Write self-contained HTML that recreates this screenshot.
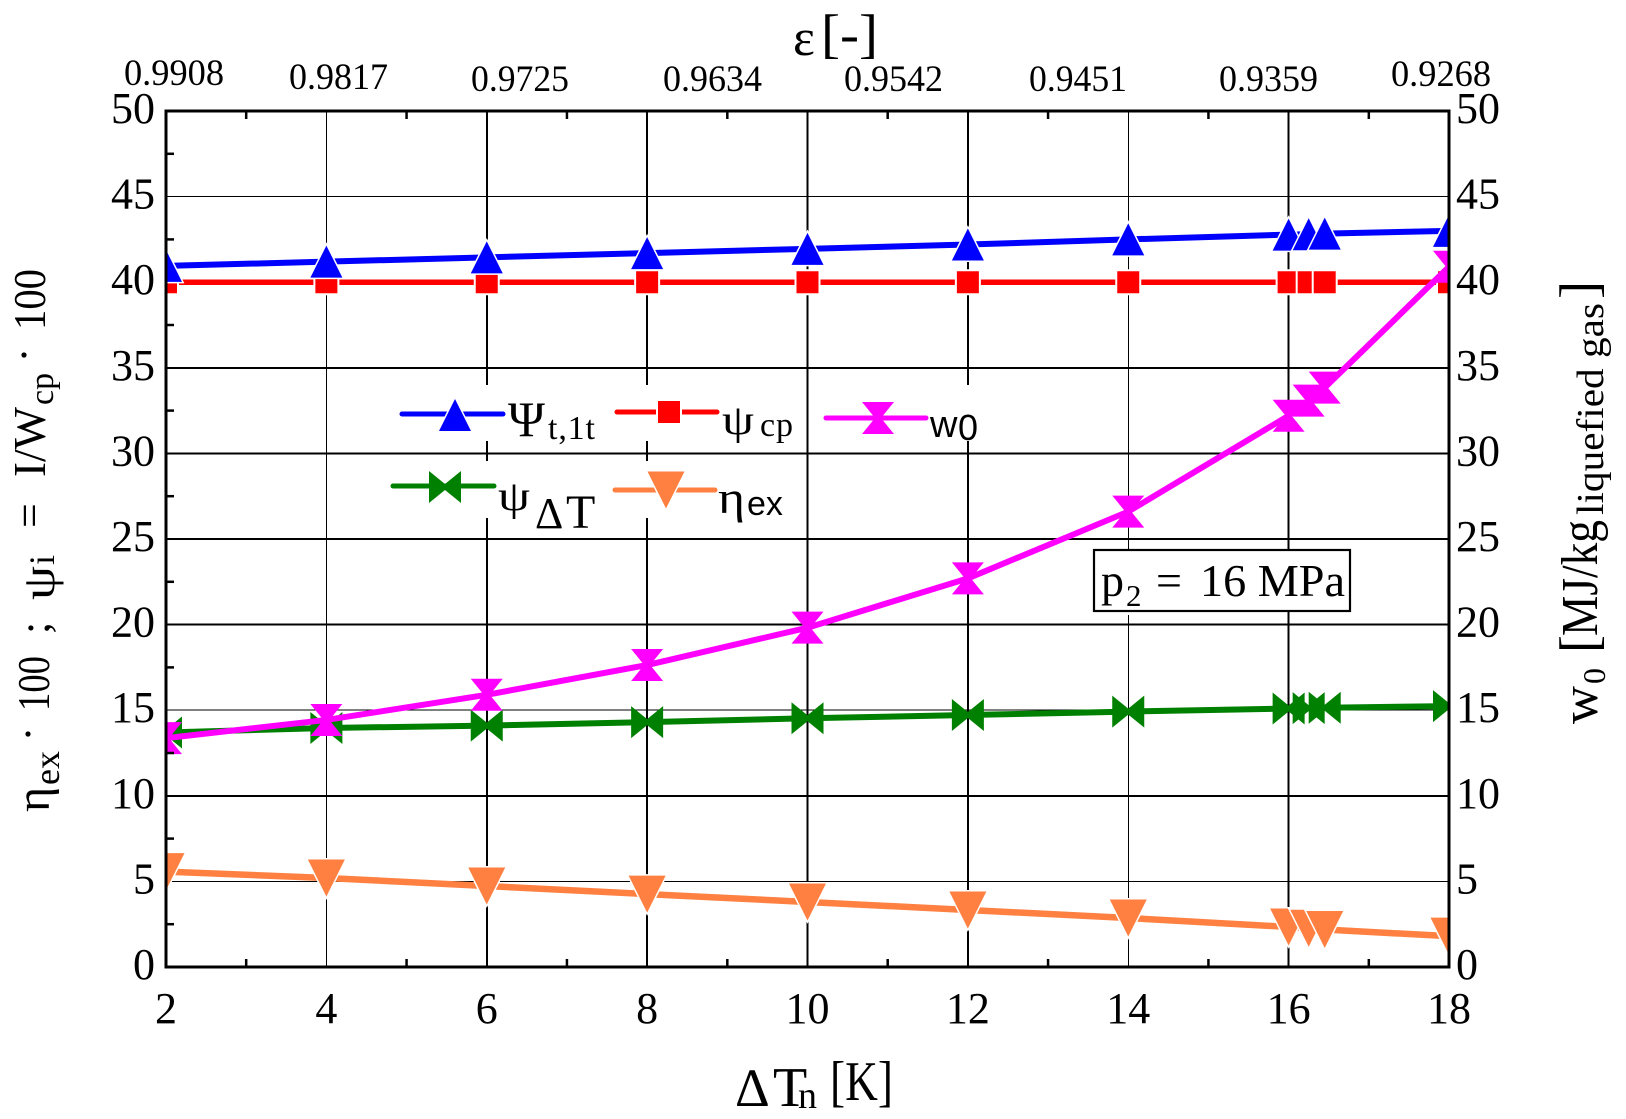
<!DOCTYPE html>
<html lang="en">
<head>
<meta charset="utf-8">
<title>Exergy efficiency chart</title>
<style>
html,body{margin:0;padding:0;background:#fff;}
svg{display:block;}
text{font-family:"Liberation Serif",serif;fill:#000;}
.sans{font-family:"Liberation Sans",sans-serif;}
</style>
</head>
<body>
<svg id="chart" xmlns="http://www.w3.org/2000/svg" width="1626" height="1119" viewBox="0 0 1626 1119">
  <defs>
    <clipPath id="plot-clip"><rect x="166" y="111" width="1283" height="856"/></clipPath>
  </defs>
  <rect x="0" y="0" width="1626" height="1119" fill="#fff"/>
  <g id="grid-layer"></g>

  <g fill="#fff">
    <rect x="480" y="385" width="320" height="56"/>
    <rect x="925" y="385" width="55" height="56"/>
    <rect x="480" y="461" width="320" height="57"/>
  </g>

  <g id="series-layer" clip-path="url(#plot-clip)"></g>
  <g id="axis-layer"></g>

  <!-- Epsilon scale labels (free-standing along the top) -->
  <g font-size="37">
    <text x="124" y="85" textLength="100" lengthAdjust="spacingAndGlyphs">0.9908</text>
    <text x="289" y="89" textLength="99" lengthAdjust="spacingAndGlyphs">0.9817</text>
    <text x="471" y="91" textLength="98" lengthAdjust="spacingAndGlyphs">0.9725</text>
    <text x="663" y="91" textLength="99" lengthAdjust="spacingAndGlyphs">0.9634</text>
    <text x="844" y="91" textLength="99" lengthAdjust="spacingAndGlyphs">0.9542</text>
    <text x="1029" y="91" textLength="98" lengthAdjust="spacingAndGlyphs">0.9451</text>
    <text x="1219" y="91" textLength="99" lengthAdjust="spacingAndGlyphs">0.9359</text>
    <text x="1391" y="86" textLength="100" lengthAdjust="spacingAndGlyphs">0.9268</text>
  </g>

  <!-- Top title -->
  <g>
    <text x="793" y="55" font-size="52">ε</text>
    <text x="821" y="52" font-size="54" textLength="57" lengthAdjust="spacingAndGlyphs">[-]</text>
  </g>

  <!-- Bottom title -->
  <g>
    <text x="735" y="1106" font-size="54">Δ</text>
    <text x="773" y="1106" font-size="56">T</text>
    <text x="798" y="1108" font-size="38">n</text>
    <text x="830" y="1100" font-size="56" textLength="63" lengthAdjust="spacingAndGlyphs">[K]</text>
  </g>

  <!-- Left title -->
  <g>
    <text transform="translate(49,812) rotate(-90)" font-size="48">η</text>
    <text transform="translate(59,785) rotate(-90)" font-size="36">ex</text>
    <circle cx="28" cy="734" r="2.6" fill="#000"/>
    <text transform="translate(49,711) rotate(-90)" font-size="46" textLength="55" lengthAdjust="spacingAndGlyphs">100</text>
    <text transform="translate(49,634) rotate(-90)" font-size="44">;</text>
    <text transform="translate(54,600) rotate(-90)" font-size="46" textLength="34" lengthAdjust="spacingAndGlyphs">ψ</text>
    <text transform="translate(54,565) rotate(-90)" font-size="36">i</text>
    <text transform="translate(44,528) rotate(-90)" font-size="44">=</text>
    <text transform="translate(45,477) rotate(-90)" font-size="46" textLength="70" lengthAdjust="spacingAndGlyphs">I/W</text>
    <text transform="translate(53,405) rotate(-90)" font-size="34">cp</text>
    <circle cx="24" cy="355" r="2.6" fill="#000"/>
    <text transform="translate(45,330) rotate(-90)" font-size="46" textLength="61" lengthAdjust="spacingAndGlyphs">100</text>
  </g>

  <!-- Right title -->
  <g>
    <text transform="translate(1597,724) rotate(-90)" font-size="52" textLength="38" lengthAdjust="spacingAndGlyphs">w</text>
    <text transform="translate(1605,684) rotate(-90)" font-size="32">0</text>
    <text transform="translate(1597,653) rotate(-90)" font-size="54">[</text>
    <text transform="translate(1597,636) rotate(-90)" font-size="52" textLength="116" lengthAdjust="spacingAndGlyphs">MJ/kg</text>
    <text transform="translate(1603,515) rotate(-90)" font-size="38" textLength="212" lengthAdjust="spacingAndGlyphs">liquefied gas</text>
    <text transform="translate(1597,299) rotate(-90)" font-size="54">]</text>
  </g>

  <!-- Legend -->
  <g>
    <g>
      <line x1="402" y1="414" x2="503" y2="414" stroke="#0000ff" stroke-width="5" stroke-linecap="round"/>
      <path d="M-16,16H16L0,-16Z" transform="translate(455,415)" fill="#0000ff" stroke="#fff" stroke-width="3" paint-order="stroke"/>
      <text x="508" y="436" font-size="50">Ψ</text>
      <text x="548" y="439" font-size="34" textLength="47" lengthAdjust="spacing">t,1t</text>
    </g>
    <g>
      <line x1="617" y1="412" x2="717" y2="412" stroke="#ff0000" stroke-width="5" stroke-linecap="round"/>
      <rect x="658" y="401" width="22" height="22" fill="#ff0000" stroke="#fff" stroke-width="4" paint-order="stroke"/>
      <text x="722" y="434" font-size="42" textLength="32" lengthAdjust="spacingAndGlyphs">ψ</text>
      <text x="760" y="436" font-size="34" textLength="33" lengthAdjust="spacing">cp</text>
    </g>
    <g>
      <line x1="826" y1="418" x2="926" y2="418" stroke="#ff00ff" stroke-width="5" stroke-linecap="round"/>
      <path d="M-16,-16H16L3,0L16,16H-16L-3,0Z" transform="translate(878,418)" fill="#ff00ff"/>
      <text class="sans" x="930" y="437" font-size="38">w</text>
      <text class="sans" x="958" y="440" font-size="36">0</text>
    </g>
    <g>
      <line x1="393" y1="486" x2="494" y2="486" stroke="#008000" stroke-width="5" stroke-linecap="round"/>
      <path d="M-16,-16L0,-3L16,-16V16L0,3L-16,16Z" transform="translate(445,487)" fill="#008000"/>
      <text x="498" y="510" font-size="42" textLength="32" lengthAdjust="spacingAndGlyphs">ψ</text>
      <text x="535" y="528" font-size="44">Δ</text>
      <text x="566" y="528" font-size="48">T</text>
    </g>
    <g>
      <line x1="615" y1="490" x2="715" y2="490" stroke="#ff8040" stroke-width="5" stroke-linecap="round"/>
      <path d="M-18.5,-18.5H18.5L0,18.5Z" transform="translate(666,490)" fill="#ff8040" stroke="#fff" stroke-width="3" paint-order="stroke"/>
      <text x="718" y="513" font-size="46" textLength="27" lengthAdjust="spacingAndGlyphs">η</text>
      <text class="sans" x="747" y="515" font-size="34">ex</text>
    </g>
  </g>

  <!-- Pressure annotation -->
  <g>
    <rect x="1120" y="610" width="16" height="5" fill="#fff"/>
    <rect x="1094" y="550" width="256" height="61" fill="#fff" stroke="#000" stroke-width="2.2"/>
    <text x="1101" y="596" font-size="46">p</text>
    <text x="1126" y="606" font-size="31">2</text>
    <text x="1156" y="596" font-size="46">=</text>
    <text x="1200" y="596" font-size="46" textLength="145" lengthAdjust="spacingAndGlyphs">16 MPa</text>
  </g>
</svg>

<script>
const dtValues = [2, 4, 6, 8, 10, 12, 14, 16, 16.25, 16.45, 18];
const psiTValues = [40.95, 41.2, 41.45, 41.7, 41.95, 42.2, 42.5, 42.78, 42.8, 42.84, 43.0];
const psiCpValues = [40, 40, 40, 40, 40, 40, 40, 40, 40, 40, 40];
const w0Values = [13.37, 14.43, 15.9, 17.64, 19.82, 22.7, 26.6, 32.2, 33.08, 33.84, 40.9];
const psiDtValues = [13.7, 13.96, 14.1, 14.3, 14.53, 14.72, 14.92, 15.1, 15.12, 15.14, 15.24];
const etaExValues = [5.57, 5.2, 4.73, 4.26, 3.8, 3.33, 2.86, 2.34, 2.26, 2.19, 1.8];
const xTickValues = [2, 4, 6, 8, 10, 12, 14, 16, 18];
const xMinorValues = [3, 5, 7, 9, 11, 13, 15, 17];
const yTickValues = [0, 5, 10, 15, 20, 25, 30, 35, 40, 45, 50];
const yMinorValues = [2.5, 7.5, 12.5, 17.5, 22.5, 27.5, 32.5, 37.5, 42.5, 47.5];
const thinXGrid = [4, 14];
const thinYGrid = [45, 15, 5];

const NS = 'http://www.w3.org/2000/svg';
const plotLeft = 166, plotRight = 1449, plotTop = 111, plotBottom = 967;
function xAxis(v) { return plotLeft + (v - 2) * (plotRight - plotLeft) / 16; }
function yAxis(v) { return plotBottom - v * (plotBottom - plotTop) / 50; }
function make(tag, parent) {
  const el = document.createElementNS(NS, tag);
  parent.appendChild(el);
  return el;
}

const gridLayer = document.getElementById('grid-layer');
const axisLayer = document.getElementById('axis-layer');
const seriesLayer = document.getElementById('series-layer');

xTickValues.slice(1, -1).forEach(function (v) {
  const l = make('line', gridLayer);
  
  
  l.setAttribute('x1', xAxis(v)); l.setAttribute('x2', xAxis(v));
  l.setAttribute('y1', plotTop); l.setAttribute('y2', plotBottom);
  l.setAttribute('stroke', '#000');
  l.setAttribute('stroke-width', thinXGrid.indexOf(v) >= 0 ? 1 : 2);
  l.setAttribute('shape-rendering', 'crispEdges');
});
yTickValues.slice(1, -1).forEach(function (v) {
  const l = make('line', gridLayer);
  
  
  l.setAttribute('x1', plotLeft); l.setAttribute('x2', plotRight);
  l.setAttribute('y1', yAxis(v)); l.setAttribute('y2', yAxis(v));
  l.setAttribute('stroke', '#000');
  l.setAttribute('stroke-width', thinYGrid.indexOf(v) >= 0 ? 1 : 2);
  l.setAttribute('shape-rendering', 'crispEdges');
});

function drawSeries(name, values, color, shape, halo, lineWidth) {
  const group = make('g', seriesLayer);
  
  
  const line = make('polyline', group);
  
  
  line.setAttribute('points', values.map(function (v, i) { return xAxis(dtValues[i]) + ',' + yAxis(v); }).join(' '));
  line.setAttribute('fill', 'none');
  line.setAttribute('stroke', color);
  line.setAttribute('stroke-width', lineWidth);
  values.forEach(function (v, i) {
    const m = make('path', group);
    
    
    m.setAttribute('d', shape);
    m.setAttribute('transform', 'translate(' + xAxis(dtValues[i]) + ',' + yAxis(v) + ')');
    m.setAttribute('fill', color);
    if (halo) {
      m.setAttribute('stroke', '#fff');
      m.setAttribute('stroke-width', halo);
      m.setAttribute('paint-order', 'stroke');
    }
  });
}
drawSeries('series-psi-cp', psiCpValues, '#ff0000', 'M-11,-11H11V11H-11Z', 4, 5.5);
drawSeries('series-psi-t', psiTValues, '#0000ff', 'M-16,16H16L0,-16Z', 3, 6);
drawSeries('series-psi-delta-t', psiDtValues, '#008000', 'M-16,-16L0,-3L16,-16V16L0,3L-16,16Z', 0, 6);
drawSeries('series-w0', w0Values, '#ff00ff', 'M-16,-16H16L3,0L16,16H-16L-3,0Z', 0, 6);
drawSeries('series-eta-ex', etaExValues, '#ff8040', 'M-18.5,-18.5H18.5L0,18.5Z', 3, 6.5);

xMinorValues.forEach(function (v) {
  [[plotTop, plotTop + 8], [plotBottom, plotBottom - 8]].forEach(function (pair) {
    const t = make('line', axisLayer);
    
    
    t.setAttribute('x1', xAxis(v)); t.setAttribute('x2', xAxis(v));
    t.setAttribute('y1', pair[0]); t.setAttribute('y2', pair[1]);
    t.setAttribute('stroke', '#000');
    t.setAttribute('stroke-width', 2.5);
  });
});
yMinorValues.forEach(function (v) {
  const t = make('line', axisLayer);
  
  
  t.setAttribute('x1', plotLeft); t.setAttribute('x2', plotLeft + 8);
  t.setAttribute('y1', yAxis(v)); t.setAttribute('y2', yAxis(v));
  t.setAttribute('stroke', '#000');
  t.setAttribute('stroke-width', 2.5);
});

const frame = make('rect', axisLayer);


frame.setAttribute('x', plotLeft);
frame.setAttribute('y', plotTop);
frame.setAttribute('width', plotRight - plotLeft);
frame.setAttribute('height', plotBottom - plotTop);
frame.setAttribute('fill', 'none');
frame.setAttribute('stroke', '#000');
frame.setAttribute('stroke-width', 3);

xTickValues.forEach(function (v) {
  const t = make('text', axisLayer);
  
  
  t.setAttribute('x', xAxis(v));
  t.setAttribute('y', 1023);
  t.setAttribute('font-size', 44);
  t.setAttribute('text-anchor', 'middle');
  t.textContent = String(v);
});
yTickValues.forEach(function (v) {
  const left = make('text', axisLayer);
  
  
  left.setAttribute('x', 155);
  left.setAttribute('y', yAxis(v) + 12);
  left.setAttribute('font-size', 44);
  left.setAttribute('text-anchor', 'end');
  left.textContent = String(v);
  const right = make('text', axisLayer);
  
  
  right.setAttribute('x', 1456);
  right.setAttribute('y', yAxis(v) + 12);
  right.setAttribute('font-size', 44);
  right.textContent = String(v);
});
</script>
</body>
</html>
